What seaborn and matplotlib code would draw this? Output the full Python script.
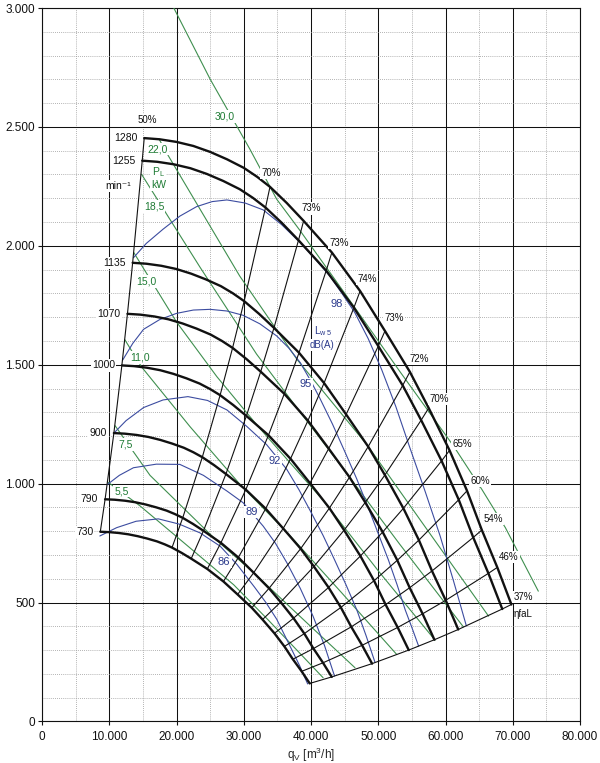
import matplotlib
matplotlib.use("Agg")
import matplotlib.pyplot as plt
from matplotlib.ticker import MultipleLocator, FuncFormatter
import numpy as np
import pandas as pd
import seaborn as sns

sns.set_style("white")
plt.rcParams["font.family"] = ["Liberation Sans", "DejaVu Sans"]
plt.rcParams["mathtext.fontset"] = "custom"
plt.rcParams["mathtext.rm"] = "Liberation Sans"
plt.rcParams["mathtext.it"] = "Liberation Sans:italic"

# fan speeds in min-1, one thick curve each
speeds = [730, 790, 900, 1000, 1070, 1135, 1255, 1280]

# 1280 min-1 curve (q in m3/h, p in Pa)
# the other speeds follow the fan laws q ~ n, p ~ n^2
top_q = [15200, 17500, 20000, 22500, 25000, 27500, 30000, 32000, 33900, 36400, 38900,
         43100, 47300, 51000, 54700, 57500, 60600, 63200, 65400, 67700, 69800]
top_p = [2453, 2448, 2437, 2420, 2395, 2364, 2328, 2290, 2248, 2180, 2105,
         1972, 1810, 1642, 1470, 1318, 1140, 970, 805, 648, 492]
# efficiency lines run through these points of the top curve
eff_labels = ["50%", None, None, None, None, None, None, None, "70%", None, "73%",
              "73%", "74%", "73%", "72%", "70%", "65%", "60%", "54%", "46%", "37%"]

# shaft power lines P_L in kW
power_labels = ["30,0", "22,0", "18,5", "15,0", "11,0", "7,5", "5,5"]
power_q = [
    [19600, 25000, 30900, 34900, 38400, 44800, 53200, 61200, 65400, 68900, 73800],
    [17400, 18800, 29400, 37900, 48500, 56200, 66400],
    [14800, 23500, 31900, 38400, 44200, 53200, 62650],
    [13640, 20000, 26000, 32000, 41800, 50100, 58440],
    [12300, 14800, 22000, 29500, 36600, 44500, 52740],
    [10860, 16060, 25600, 31500, 39000, 46540],
    [9830, 14600, 21500, 28500, 33700, 41800],
]
power_p = [
    [3000, 2701, 2407, 2196, 2063, 1809, 1472, 1158, 976, 815, 548],
    [2449, 2378, 1873, 1523, 1157, 849, 443],
    [2301, 1910, 1545, 1300, 1085, 745, 398],
    [1972, 1680, 1450, 1245, 930, 630, 342],
    [1606, 1491, 1240, 995, 790, 543, 282],
    [1244, 1035, 771, 625, 425, 226],
    [1006, 906, 742, 575, 425, 184],
]

# sound power level lines Lw5 in dB(A)
sound_labels = ["98", "95", "92", "89", "86"]
sound_q = [
    [13600, 15500, 18000, 20500, 23000, 25300, 27500, 30200, 32900, 35600, 38400, 40600,
     42800, 44600, 46500, 48500, 50500, 52600, 54700, 57000, 59200, 61200, 63100],
    [12000, 13500, 15100, 17500, 20000, 22500, 25000, 27500, 29900, 32400, 34900, 36700,
     38400, 40000, 41300, 43200, 45100, 46800, 48500, 50000, 51500, 52800, 54000, 55000, 56000],
    [10700, 12500, 15100, 18000, 21700, 24600, 27500, 30400, 33400, 36400, 38200, 40000,
     41800, 43500, 45200, 46800, 48200, 49500],
    [9700, 11500, 13600, 17000, 20500, 24000, 27500, 29900, 32900, 34700, 36400, 38400,
     40300, 42000, 43500],
    [8600, 11100, 14000, 17300, 20400, 23500, 26500, 29000, 31600, 33300, 34900, 37000,
     38300, 39500],
]
sound_p = [
    [1950, 2010, 2070, 2125, 2165, 2186, 2193, 2180, 2151, 2090, 2013, 1945,
     1873, 1800, 1720, 1610, 1480, 1325, 1151, 965, 780, 590, 402],
    [1520, 1590, 1649, 1690, 1716, 1730, 1733, 1726, 1708, 1672, 1621, 1570,
     1509, 1430, 1360, 1250, 1130, 1020, 900, 790, 680, 575, 470, 395, 317],
    [1213, 1265, 1320, 1352, 1366, 1350, 1310, 1242, 1164, 1060, 975, 880,
     782, 680, 575, 470, 360, 250],
    [996, 1035, 1067, 1082, 1081, 1035, 969, 920, 821, 750, 668, 560,
     443, 320, 191],
    [780, 815, 842, 852, 830, 793, 737, 660, 565, 500, 430, 310,
     235, 158],
]

BLACK = "#111111"
GREEN = "#3f8f4f"
GREEN_TXT = "#1e7b34"
BLUE = "#3c4ca0"
BLUE_TXT = "#2b3a8c"

# ---- build long tables -------------------------------------------------
rows = []
for n in speeds:
    r = n / speeds[-1]
    for i, (q, p) in enumerate(zip(top_q, top_p)):
        rows.append((n, i, q * r, p * r * r))
grid_pts = pd.DataFrame(rows, columns=["rpm", "idx", "q", "p"])
eff_idx = [i for i, t in enumerate(eff_labels) if t is not None]
eff_pts = grid_pts[grid_pts["idx"].isin(eff_idx)].sort_values(["idx", "rpm"])

power_df = pd.DataFrame(
    [(lab, q, p) for lab, qs, ps in zip(power_labels, power_q, power_p) for q, p in zip(qs, ps)],
    columns=["kw", "q", "p"])
sound_df = pd.DataFrame(
    [(lab, q, p) for lab, qs, ps in zip(sound_labels, sound_q, sound_p) for q, p in zip(qs, ps)],
    columns=["db", "q", "p"])

# ---- figure -------------------------------------------------------------
fig = plt.figure(figsize=(6, 7.63), dpi=100)
ax = fig.add_axes([0.07, 0.0544, 0.8967, 0.9351])

sns.lineplot(data=power_df, x="q", y="p", units="kw", estimator=None, sort=False,
             color=GREEN, lw=0.8, ax=ax, legend=False, zorder=3)
sns.lineplot(data=sound_df, x="q", y="p", units="db", estimator=None, sort=False,
             color=BLUE, lw=0.8, ax=ax, legend=False, zorder=3)
sns.lineplot(data=eff_pts, x="q", y="p", units="idx", estimator=None, sort=False,
             color=BLACK, lw=0.8, ax=ax, legend=False, zorder=4)
sns.lineplot(data=grid_pts, x="q", y="p", units="rpm", estimator=None, sort=False,
             color=BLACK, lw=1.7, ax=ax, legend=False, zorder=4)

box = dict(fc="white", ec="none", pad=0.8)

# speed labels left of each curve start
starts = grid_pts[grid_pts["idx"] == 0]
for _, row in starts.iterrows():
    ax.annotate(f"{int(row['rpm'])}", (row["q"], row["p"]), xytext=(-7, 0),
                textcoords="offset pixels", ha="right", va="center",
                fontsize=7.5, color=BLACK, bbox=box, zorder=6)
ax.text(11380, 2251, "min\u207b\u00b9", ha="center", va="center", fontsize=7.5,
        color=BLACK, bbox=box, zorder=6)

# efficiency labels
eff_text_pos = [(15610, 2528), (34050, 2308), (40100, 2157), (44160, 2014),
                (48330, 1860), (52340, 1695), (56060, 1523), (59030, 1355),
                (62450, 1165), (65130, 1011), (67060, 850), (69440, 690),
                (71520, 522)]
for i, (x, y) in zip(eff_idx, eff_text_pos):
    ax.text(x, y, eff_labels[i], ha="center", va="center", fontsize=7,
            color=BLACK, bbox=box, zorder=6)
ax.text(70100, 450, "\u03b7faL", ha="left", va="center", fontsize=7, color=BLACK, zorder=6)

# power labels
power_text_pos = [(27210, 2544), (17220, 2406), (16650, 2165), (15570, 1850),
                  (14530, 1530), (12460, 1165), (11850, 969)]
for lab, (x, y) in zip(power_labels, power_text_pos):
    ax.text(x, y, lab, ha="center", va="center", fontsize=7.5, color=GREEN_TXT,
            bbox=box, zorder=6)
ax.text(16300, 2308, r"P$_\mathrm{L}$", ha="left", va="center", fontsize=7.5,
        color=GREEN_TXT, bbox=box, zorder=6)
ax.text(16300, 2255, "kW", ha="left", va="center", fontsize=7.5,
        color=GREEN_TXT, bbox=box, zorder=6)

# sound labels
sound_text_pos = [(43820, 1754), (39150, 1418), (34650, 1095), (31180, 880), (27090, 670)]
for lab, (x, y) in zip(sound_labels, sound_text_pos):
    ax.text(x, y, lab, ha="center", va="center", fontsize=8, color=BLUE_TXT,
            bbox=box, zorder=6)
ax.text(41780, 1642, r"L$_{\mathrm{w\,5}}$", ha="center", va="center", fontsize=7.5,
        color=BLUE_TXT, bbox=box, zorder=6)
ax.text(41560, 1582, "dB(A)", ha="center", va="center", fontsize=7,
        color=BLUE_TXT, bbox=box, zorder=6)

# ---- axes, grid ---------------------------------------------------------
ax.set_xlim(0, 80000)
ax.set_ylim(0, 3000)
ax.xaxis.set_major_locator(MultipleLocator(10000))
ax.xaxis.set_minor_locator(MultipleLocator(5000))
ax.yaxis.set_major_locator(MultipleLocator(500))
ax.yaxis.set_minor_locator(MultipleLocator(100))
fmt = FuncFormatter(lambda v, _: f"{v:,.0f}".replace(",", "."))
ax.xaxis.set_major_formatter(fmt)
ax.yaxis.set_major_formatter(fmt)
ax.grid(which="major", color=BLACK, lw=0.75, zorder=1)
ax.grid(which="minor", color="#9a9a9a", lw=0.6, ls=(0, (1, 1.5)), zorder=0)
ax.set_axisbelow(True)
ax.tick_params(which="major", length=3, width=0.8, labelsize=8.5, pad=2,
               colors=BLACK, left=True, bottom=True)
ax.tick_params(axis="x", pad=4)
ax.tick_params(which="minor", length=0)
for s in ax.spines.values():
    s.set_color(BLACK)
    s.set_linewidth(0.8)
ax.set_xlabel(r"q$_\mathrm{V}$ [m$^3$/h]", fontsize=8.5, labelpad=2)
ax.set_ylabel("")

fig.savefig("out.png", dpi=100)
